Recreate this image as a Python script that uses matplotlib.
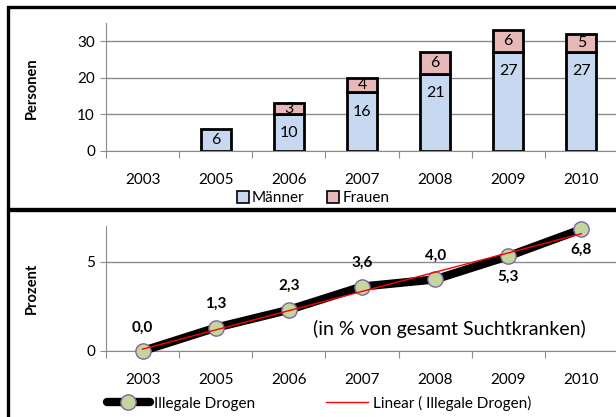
import matplotlib
matplotlib.use('Agg')
import matplotlib.pyplot as plt
from matplotlib.patches import Rectangle
from matplotlib.lines import Line2D
import numpy as np

plt.rcParams['font.family'] = ['Lato', 'DejaVu Sans']

years = ['2003', '2005', '2006', '2007', '2008', '2009', '2010']
maenner = [0, 6, 10, 16, 21, 27, 27]
frauen = [0, 0, 3, 4, 6, 6, 5]
prozent = [0.0, 1.3, 2.3, 3.6, 4.0, 5.3, 6.8]

W, H = 616, 417
fig = plt.figure(figsize=(W / 100, H / 100), dpi=100)
grid_c = '#8c8c8c'
blue = '#c6d9f1'
pink = '#e6b9b8'


def px_axes(left, top, right, bottom):
    return fig.add_axes([left / W, 1 - bottom / H, (right - left) / W, (bottom - top) / H])


def style_axes(ax, ymax, yticks):
    x = np.arange(len(years))
    ax.set_xlim(-0.5, len(years) - 0.5)
    ax.set_ylim(0, ymax)
    ax.set_yticks(yticks)
    ax.set_xticks(np.arange(len(years) + 1) - 0.5)
    ax.set_xticklabels([])
    ax.set_xticks(x, minor=True)
    ax.set_xticklabels(years, minor=True, fontsize=11)
    ax.tick_params(axis='x', which='major', length=5, color=grid_c, direction='out')
    ax.tick_params(axis='x', which='minor', length=0, pad=16)
    ax.tick_params(axis='y', length=4, color=grid_c, labelsize=11, pad=4)
    ax.grid(axis='y', color=grid_c, lw=1)
    ax.set_axisbelow(True)
    for s in ['top', 'right']:
        ax.spines[s].set_visible(False)
    for s in ['left', 'bottom']:
        ax.spines[s].set_color(grid_c)


# --- oberes Diagramm: Personen ---
ax1 = px_axes(106, 22.7, 618, 151)
style_axes(ax1, 35, [0, 10, 20, 30])
x = np.arange(len(years))
m = np.array(maenner)
f = np.array(frauen)
im = m > 0
jf = f > 0
ax1.bar(x[im], m[im], width=0.41, color=blue, edgecolor='black', lw=2)
ax1.bar(x[jf], f[jf], width=0.41, bottom=m[jf], color=pink, edgecolor='black', lw=2)
for i in range(len(years)):
    if maenner[i] > 0:
        yl = maenner[i] - min(maenner[i] / 2, 5.3)
        ax1.text(x[i], yl, str(maenner[i]), ha='center', va='center', fontsize=11.5)
    if frauen[i] > 0:
        ax1.text(x[i], maenner[i] + frauen[i] / 2, str(frauen[i]), ha='center', va='center', fontsize=11.5)
fig.text(32 / W, 1 - 88 / H, 'Personen', rotation=90, ha='center', va='center',
         fontsize=10.5, fontweight='bold')
h1 = [Line2D([], [], ls='none', marker='s', ms=8, mfc=blue, mec='black', mew=1.2),
      Line2D([], [], ls='none', marker='s', ms=8, mfc=pink, mec='black', mew=1.2)]
fig.legend(h1, ['Männer', 'Frauen'], loc='center', bbox_to_anchor=(313 / W, 1 - 198 / H),
           ncol=2, frameon=False, fontsize=11, handlelength=0.8, handletextpad=0.2,
           columnspacing=1.5, borderpad=0)

# --- unteres Diagramm: Prozent ---
ax2 = px_axes(106, 225.7, 618, 351)
style_axes(ax2, 7, [0, 5])
ax2.plot(x, prozent, color='black', lw=6, marker='o', ms=11, mfc='#c3d69b',
         mec='#8064a2', mew=1, solid_capstyle='round', zorder=3, clip_on=False,
         label='Illegale Drogen')
k, d = np.polyfit(x, prozent, 1)
ax2.plot(x, k * x + d, color='red', lw=1, zorder=4, clip_on=False,
         label='Linear ( Illegale Drogen)')
for i in range(len(years)):
    off = 17 if i < 5 else -15
    ax2.annotate(f'{prozent[i]:.1f}'.replace('.', ','), (x[i], prozent[i]),
                 xytext=(0, off), textcoords='offset points', ha='center', va='center',
                 fontsize=11, fontweight='bold')
ax2.text(4.2, 1.25, '(in % von gesamt Suchtkranken)', ha='center', va='center', fontsize=14)
fig.text(32 / W, 1 - 288 / H, 'Prozent', rotation=90, ha='center', va='center',
         fontsize=10.5, fontweight='bold')
h2, l2 = ax2.get_legend_handles_labels()
fig.legend(h2, l2, loc='center', bbox_to_anchor=(319 / W, 1 - 403 / H), ncol=2,
           frameon=False, fontsize=11, handlelength=2.8, handletextpad=0.3,
           columnspacing=4.6, borderpad=0)

# Rahmen
fig.patches.append(Rectangle((8 / W, 1 - 209 / H), 700 / W, 202 / H, transform=fig.transFigure,
                             fill=False, ec='black', lw=2.4))
fig.patches.append(Rectangle((8 / W, -0.1), 700 / W, (1 - 210 / H) + 0.1, transform=fig.transFigure,
                             fill=False, ec='black', lw=2.4))

fig.savefig('out.png', dpi=100)
